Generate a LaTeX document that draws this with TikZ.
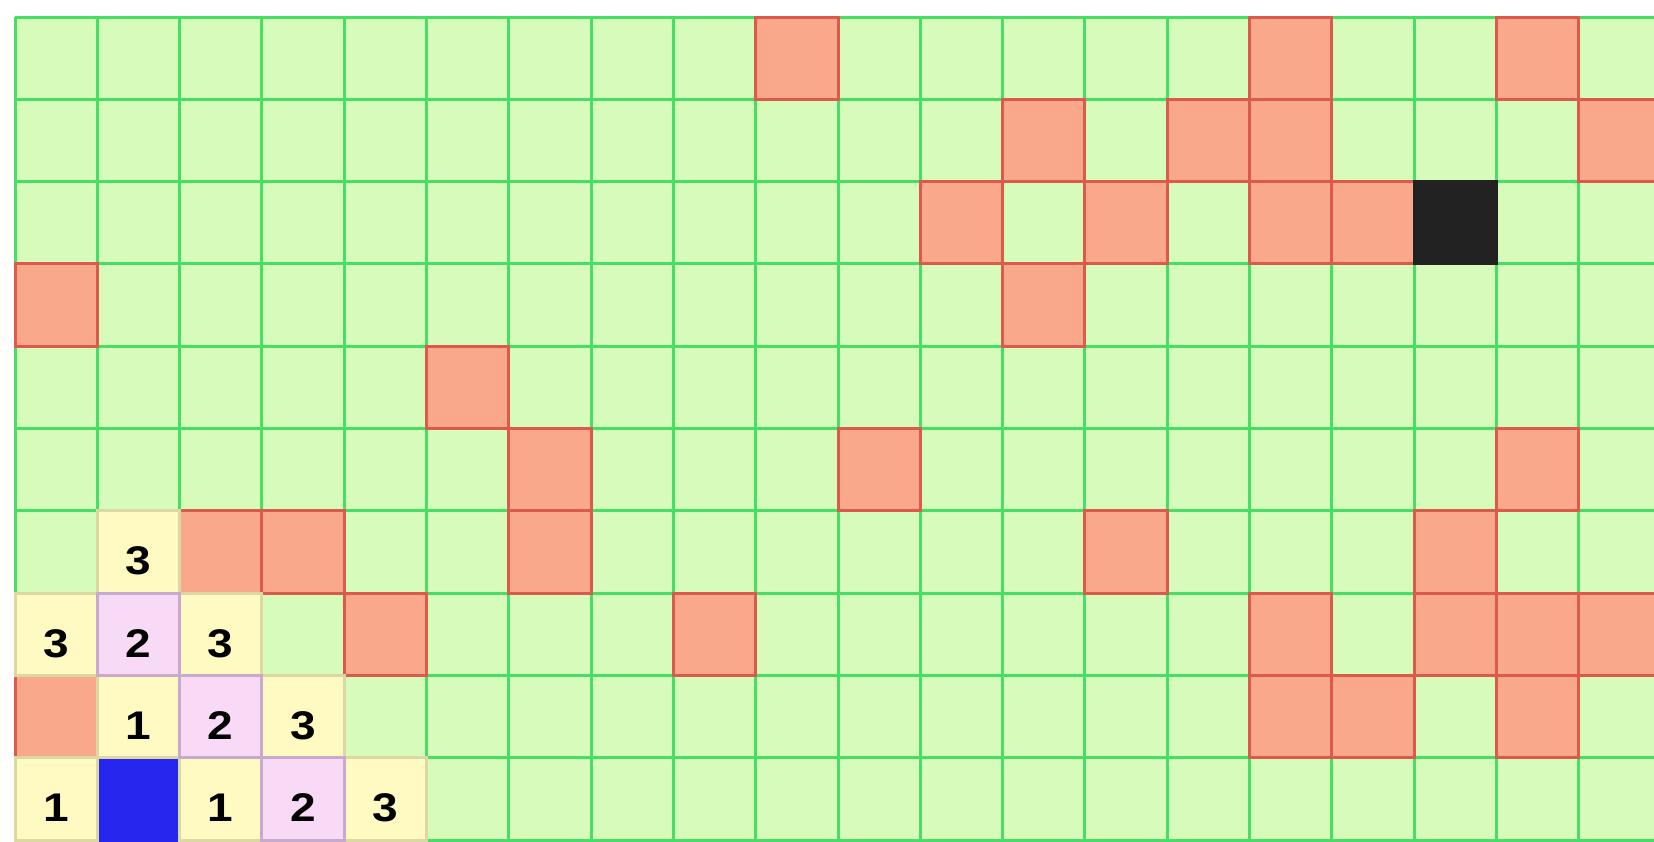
\documentclass[tikz,border=0pt]{standalone}
\usepackage{fontspec}
\newfontfamily\digitfont{Liberation Sans}
\definecolor{cellgreen}{HTML}{D6FBBA}
\definecolor{gridgreen}{HTML}{46DE64}
\definecolor{cellred}{HTML}{F9A88C}
\definecolor{edgered}{HTML}{DC5A4C}
\definecolor{cellyellow}{HTML}{FEFAC2}
\definecolor{edgeyellow}{HTML}{DCD8A4}
\definecolor{cellpink}{HTML}{F8DAF6}
\definecolor{edgepink}{HTML}{C8AACE}
\definecolor{cellblue}{HTML}{2626EE}
\definecolor{cellblack}{HTML}{222222}
\begin{document}
\begin{tikzpicture}[x=0.5pt,y=-0.5pt,
  gridline/.style={draw=gridgreen,line width=1.5pt},
  redcell/.style={fill=cellred,draw=edgered,line width=1.5pt},
  yellowcell/.style={fill=cellyellow,draw=edgeyellow,line width=1.5pt},
  pinkcell/.style={fill=cellpink,draw=edgepink,line width=1.5pt},
  bluecell/.style={fill=cellblue,draw=cellblue,line width=1.5pt},
  blackcell/.style={fill=cellblack,draw=cellblack,line width=1.5pt},
  numtext/.style={font=\digitfont\bfseries\fontsize{20pt}{20pt}\selectfont,inner sep=0pt,anchor=center,text=black,xscale=1.15}]
\def\s{82.3}
\useasboundingbox (0,0) rectangle (1654,841);
\fill[white] (0,0) rectangle (1654,841);
\begin{scope}
\clip (0,0) rectangle (1654,841);
\fill[cellgreen] (15,17) rectangle ({15+20*\s},{17+10*\s});
\foreach \i in {0,...,20} \draw[gridline] ({15+\i*\s},17) -- ({15+\i*\s},{17+10*\s});
\foreach \j in {0,...,10} \draw[gridline] (15,{17+\j*\s}) -- ({15+20*\s},{17+\j*\s});
% red cells: col/row
\foreach \c/\r in {9/0,15/0,18/0,
  12/1,14/1,15/1,19/1,
  11/2,13/2,15/2,16/2,
  0/3,12/3,
  5/4,
  6/5,10/5,18/5,
  2/6,3/6,6/6,13/6,17/6,
  4/7,8/7,15/7,17/7,18/7,19/7,
  0/8,15/8,16/8,18/8}
  \draw[redcell] ({15+\c*\s},{17+\r*\s}) rectangle +(\s,\s);
\draw[blackcell] ({15+17*\s},{17+2*\s}) rectangle +(\s,\s);
\draw[bluecell] ({15+1*\s},{17+9*\s}) rectangle +(\s,\s);
% numbered cells
\foreach \c/\r/\n in {1/6/3,0/7/3,2/7/3,1/8/1,3/8/3,0/9/1,2/9/1,4/9/3}{
  \draw[yellowcell] ({15+\c*\s},{17+\r*\s}) rectangle +(\s,\s);
  \node[numtext] (n\c-\r) at ({15+(\c+0.5)*\s},{17+(\r+0.5)*\s+9}) {\n};
}
\foreach \c/\r/\n in {1/7/2,2/8/2,3/9/2}{
  \draw[pinkcell] ({15+\c*\s},{17+\r*\s}) rectangle +(\s,\s);
  \node[numtext] (n\c-\r) at ({15+(\c+0.5)*\s},{17+(\r+0.5)*\s+9}) {\n};
}
\end{scope}
\end{tikzpicture}
\end{document}
